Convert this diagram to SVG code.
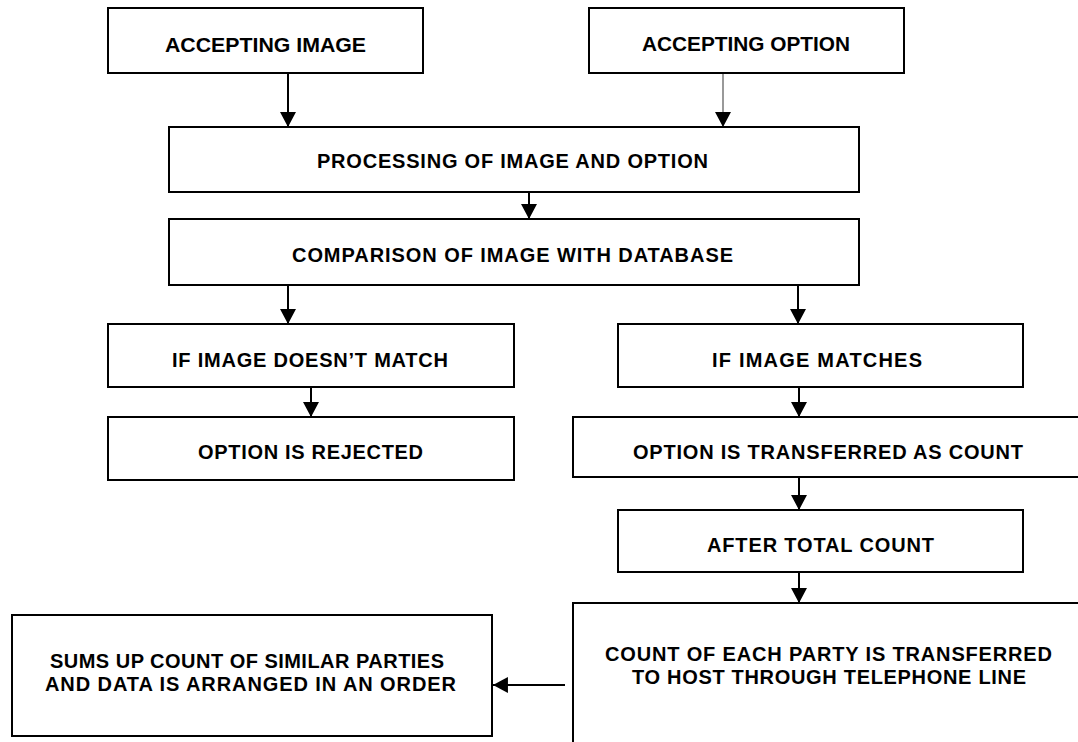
<svg xmlns="http://www.w3.org/2000/svg" width="1078" height="742" viewBox="0 0 1078 742">
<style>
.box{fill:#fff;stroke:#000;stroke-width:2}
.lbl{font-family:"Liberation Sans",Arial,sans-serif;font-weight:bold;font-size:20px;fill:#000;text-anchor:middle}
.con{stroke:#000;stroke-width:2;fill:none;marker-end:url(#ah)}
.thin{stroke:#555;stroke-width:1.2;fill:none;marker-end:url(#ah)}
</style>
<defs>
<marker id="ah" markerUnits="userSpaceOnUse" markerWidth="16" markerHeight="16" viewBox="0 0 14 15" refX="14" refY="7.5" orient="auto">
<path d="M0,0 L14,7.5 L0,15 Z" fill="#000"/>
</marker>
</defs>
<rect width="1078" height="742" fill="#fff"/>
<g id="connectors">
<line class="con" x1="288" y1="73" x2="288" y2="127"/>
<line class="thin" x1="723" y1="73" x2="723" y2="127"/>
<line class="con" x1="529" y1="192" x2="529" y2="219"/>
<line class="con" x1="288" y1="285" x2="288" y2="324"/>
<line class="con" x1="798" y1="285" x2="798" y2="324"/>
<line class="con" x1="311" y1="387" x2="311" y2="417"/>
<line class="con" x1="799" y1="387" x2="799" y2="417"/>
<line class="con" x1="799" y1="477" x2="799" y2="510"/>
<line class="con" x1="799" y1="572" x2="799" y2="603"/>
<line class="con" x1="565" y1="685" x2="493" y2="685"/>
</g>
<g id="n1"><rect class="box" x="108" y="8" width="315" height="65"/><text class="lbl" x="265.5" y="52" textLength="201" lengthAdjust="spacingAndGlyphs" style="font-size:21px">ACCEPTING IMAGE</text></g>
<g id="n2"><rect class="box" x="589" y="8" width="315" height="65"/><text class="lbl" x="746" y="51" textLength="208" lengthAdjust="spacingAndGlyphs" style="font-size:21px">ACCEPTING OPTION</text></g>
<g id="n3"><rect class="box" x="169" y="127" width="690" height="65"/><text class="lbl" x="512.5" y="168" textLength="391">PROCESSING OF IMAGE AND OPTION</text></g>
<g id="n4"><rect class="box" x="169" y="219" width="690" height="66"/><text class="lbl" x="512.5" y="262" textLength="441">COMPARISON OF IMAGE WITH DATABASE</text></g>
<g id="n5"><rect class="box" x="108" y="324" width="406" height="63"/><text class="lbl" x="310" y="367" textLength="276">IF IMAGE DOESN’T MATCH</text></g>
<g id="n6"><rect class="box" x="618" y="324" width="405" height="63"/><text class="lbl" x="817" y="367" textLength="210">IF IMAGE MATCHES</text></g>
<g id="n7"><rect class="box" x="108" y="417" width="406" height="63"/><text class="lbl" x="310.5" y="459" textLength="225">OPTION IS REJECTED</text></g>
<g id="n8"><rect class="box" x="573" y="417" width="512" height="60"/><text class="lbl" x="828" y="459" textLength="390">OPTION IS TRANSFERRED AS COUNT</text></g>
<g id="n9"><rect class="box" x="618" y="510" width="405" height="62"/><text class="lbl" x="820.5" y="552" textLength="227">AFTER TOTAL COUNT</text></g>
<g id="n10"><rect class="box" x="573" y="603" width="512" height="150"/><text class="lbl" x="828.5" y="661" textLength="447">COUNT OF EACH PARTY IS TRANSFERRED</text><text class="lbl" x="829" y="684" textLength="394">TO HOST THROUGH TELEPHONE LINE</text></g>
<g id="n11"><rect class="box" x="12" y="615" width="480" height="121"/><text class="lbl" x="247" y="668" textLength="394">SUMS UP COUNT OF SIMILAR PARTIES</text><text class="lbl" x="250.5" y="691" textLength="411">AND DATA IS ARRANGED IN AN ORDER</text></g>
</svg>
